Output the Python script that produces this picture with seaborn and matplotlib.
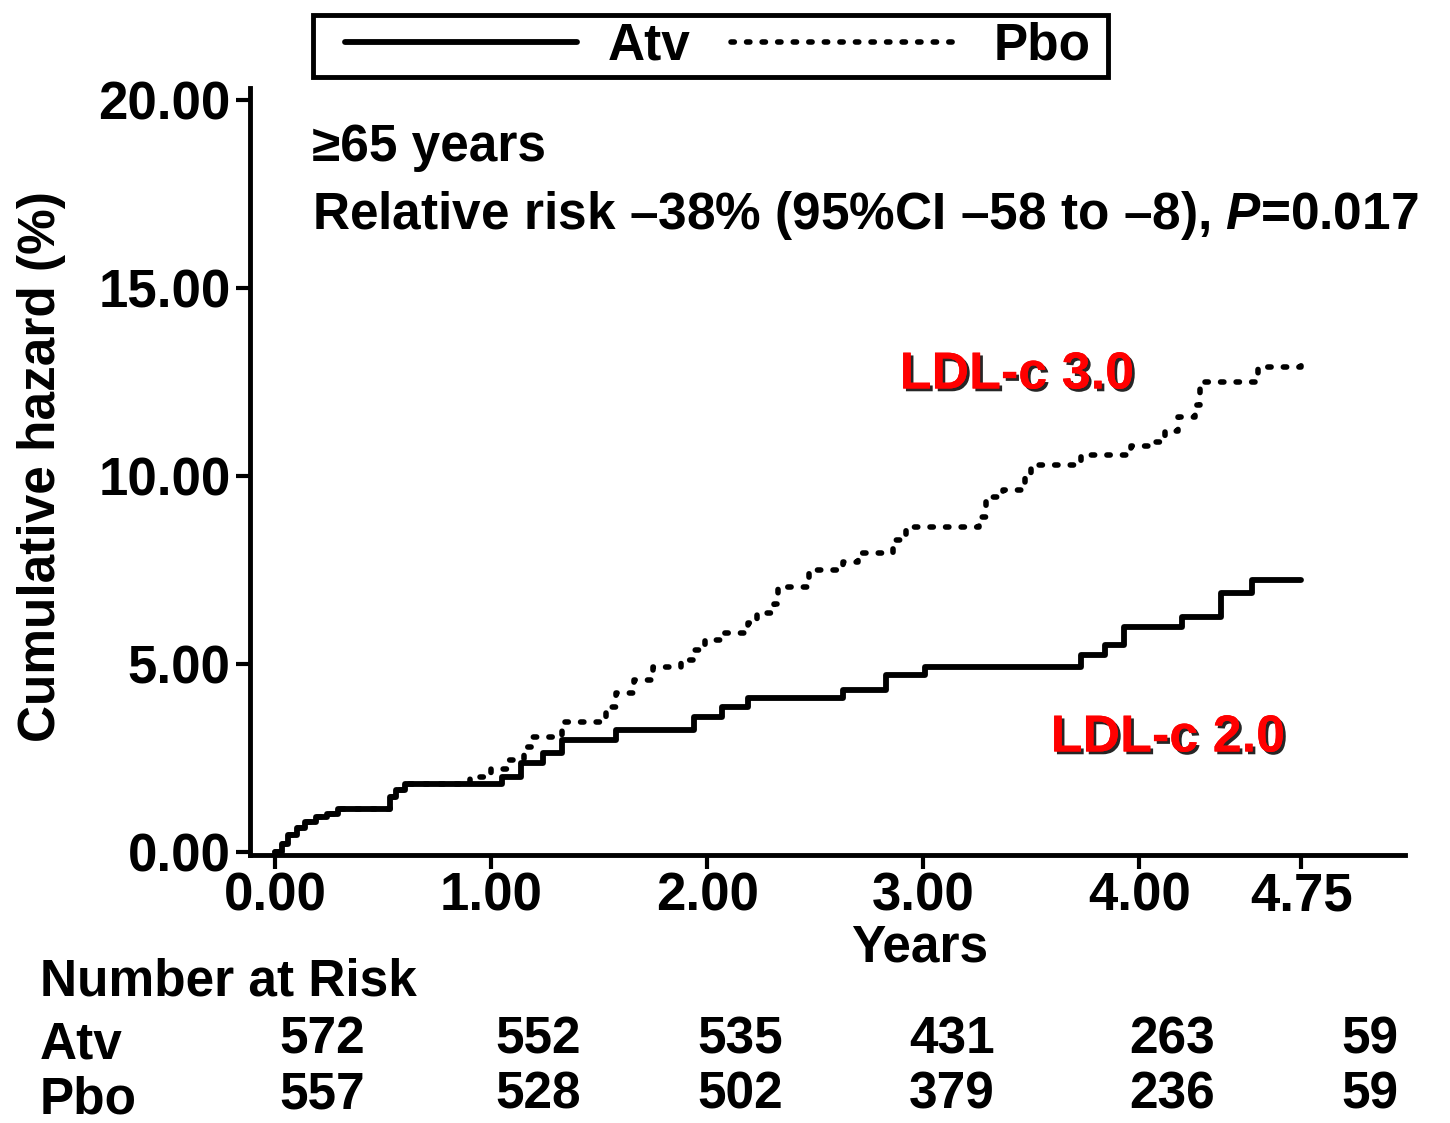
import numpy as np
import pandas as pd
import matplotlib
matplotlib.use("Agg")
import matplotlib.pyplot as plt
import matplotlib.patheffects as pe
from matplotlib.lines import Line2D
from matplotlib.patches import Rectangle
import seaborn as sns

# ---------------- data ----------------
atv_t = [0.00, 0.03, 0.06, 0.10, 0.14, 0.19, 0.24, 0.29, 0.53, 0.56, 0.60,
         1.05, 1.14, 1.24, 1.33, 1.58, 1.94, 2.07, 2.19, 2.63, 2.83, 3.01,
         3.73, 3.84, 3.93, 4.20, 4.38, 4.52, 4.75]
atv_v = [0.00, 0.20, 0.45, 0.65, 0.80, 0.92, 1.00, 1.15, 1.45, 1.65, 1.80,
         2.00, 2.37, 2.63, 2.98, 3.24, 3.59, 3.86, 4.10, 4.30, 4.70, 4.92,
         5.24, 5.50, 5.98, 6.25, 6.90, 7.23, 7.23]

pbo_t = [0.00, 0.03, 0.06, 0.10, 0.14, 0.19, 0.24, 0.29, 0.53, 0.56, 0.60,
         0.90, 1.00, 1.08, 1.15, 1.19, 1.33, 1.53, 1.58, 1.66, 1.75,
         1.88, 1.94, 1.99, 2.07, 2.19, 2.23, 2.31, 2.33, 2.47, 2.63,
         2.70, 2.86, 2.92, 3.26, 3.29, 3.37, 3.47, 3.50, 3.73, 3.96,
         4.04, 4.12, 4.18, 4.26, 4.28, 4.55, 4.75]
pbo_v = [0.00, 0.20, 0.45, 0.65, 0.80, 0.92, 1.00, 1.15, 1.45, 1.65, 1.80,
         2.00, 2.20, 2.45, 2.80, 3.06, 3.46, 3.86, 4.23, 4.57, 4.92,
         5.10, 5.37, 5.64, 5.82, 6.10, 6.35, 6.60, 7.05, 7.50, 7.70,
         7.95, 8.30, 8.64, 8.90, 9.44, 9.63, 9.97, 10.30, 10.56, 10.80,
         10.90, 11.20, 11.57, 11.90, 12.50, 12.90, 12.95]

x_ticks = [0.0, 1.0, 2.0, 3.0, 4.0, 4.75]
x_tick_labels = ["0.00", "1.00", "2.00", "3.00", "4.00", "4.75"]
y_ticks = [0, 5, 10, 15, 20]
y_tick_labels = ["0.00", "5.00", "10.00", "15.00", "20.00"]

risk_atv = [572, 552, 535, 431, 263, 59]
risk_pbo = [557, 528, 502, 379, 236, 59]

# ---------------- style ----------------
sns.set_style("ticks")
plt.rcParams['font.family'] = ['Liberation Sans', 'DejaVu Sans']
plt.rcParams['font.weight'] = 'bold'
plt.rcParams['text.color'] = 'black'
plt.rcParams['axes.labelcolor'] = 'black'
plt.rcParams['xtick.color'] = 'black'
plt.rcParams['ytick.color'] = 'black'
plt.rcParams['mathtext.fontset'] = 'custom'
plt.rcParams['mathtext.rm'] = 'Liberation Sans:bold'
plt.rcParams['mathtext.it'] = 'Liberation Sans:italic:bold'

W, H = 1450, 1123
fig = plt.figure(figsize=(W / 100, H / 100), dpi=100)
fig.patch.set_facecolor("white")

def fx(px):
    return px / W

def fy(py):
    return 1 - py / H

ax = fig.add_axes([fx(250), fy(855), fx(1405) - fx(250), fy(88) - fy(855)])
ax.set_facecolor("white")

df_atv = pd.DataFrame({"t": atv_t, "v": atv_v})
df_pbo = pd.DataFrame({"t": pbo_t, "v": pbo_v})

dot_style = (0, (0.6, 2.2))
sns.lineplot(data=df_atv, x="t", y="v", ax=ax, color="black", lw=4.2,
             drawstyle="steps-post", estimator=None, sort=False)
sns.lineplot(data=df_pbo, x="t", y="v", ax=ax, color="black", lw=4.0,
             drawstyle="steps-post", estimator=None, sort=False,
             linestyle=dot_style, dash_capstyle="round")

ax.set_xlim(-0.116, 5.23)
ax.set_ylim(-0.08, 20.32)
ax.set_xticks(x_ticks)
ax.set_xticklabels(x_tick_labels)
ax.set_yticks(y_ticks)
ax.set_yticklabels(y_tick_labels)
ax.tick_params(axis="both", labelsize=38, width=3, length=10, color="black",
               labelcolor="black", direction="out")
ax.tick_params(axis="y", pad=4)
ax.tick_params(axis="x", pad=2)
for s in ["top", "right"]:
    ax.spines[s].set_visible(False)
for s in ["left", "bottom"]:
    ax.spines[s].set_linewidth(3.5)
    ax.spines[s].set_color("black")
ax.set_xlabel("")
ax.set_ylabel("")
ax.grid(False)

# axis titles
fig.text(fx(42), fy(467), "Cumulative hazard (%)", rotation=90, fontsize=37,
         ha="center", va="center")
fig.text(fx(920), fy(948), "Years", fontsize=37, ha="center", va="center")

# header texts
fig.text(fx(312), fy(148), "≥65 years", fontsize=37, ha="left", va="center")
fig.text(fx(312), fy(215),
         r"Relative risk –38% (95%CI –58 to –8), $\it{P}$=0.017",
         fontsize=37, ha="left", va="center")

# red labels with shadow
shadow = [pe.withSimplePatchShadow(offset=(2, -2), shadow_rgbFace="black",
                                   alpha=0.85), pe.Normal()]
fig.text(fx(1017), fy(375), "LDL-c 3.0", fontsize=37.5, fontweight="bold",
         color="#ff0000", ha="center", va="center", path_effects=shadow)
fig.text(fx(1168), fy(738), "LDL-c 2.0", fontsize=37.5, fontweight="bold",
         color="#ff0000", ha="center", va="center", path_effects=shadow)

# legend (frame drawn as separate rectangle)
fig.patches.append(Rectangle((fx(313), fy(77)), fx(1108) - fx(313),
                             fy(15) - fy(77), transform=fig.transFigure,
                             fill=False, edgecolor="black", linewidth=3.5))
handles = [Line2D([], [], color="black", lw=4.2),
           Line2D([], [], color="black", lw=4.0, linestyle=dot_style,
                  dash_capstyle="round")]
leg = fig.legend(handles, ["Atv", "Pbo"], ncol=2, loc="center",
                 bbox_to_anchor=(fx(718), fy(46)), fontsize=37,
                 frameon=False, handlelength=4.5,
                 handletextpad=0.6, columnspacing=0.8, borderpad=0.1,
                 borderaxespad=0)

# number at risk table
fig.text(fx(40), fy(982), "Number at Risk", fontsize=37, ha="left", va="center")
fig.text(fx(40), fy(1045), "Atv", fontsize=37, ha="left", va="center")
fig.text(fx(40), fy(1100), "Pbo", fontsize=37, ha="left", va="center")
risk_px = [322, 538, 740, 952, 1172, 1370]
for px, a, p in zip(risk_px, risk_atv, risk_pbo):
    fig.text(fx(px), fy(1040), str(a), fontsize=37, ha="center", va="center")
    fig.text(fx(px), fy(1095), str(p), fontsize=37, ha="center", va="center")

fig.savefig("out.png", dpi=100, facecolor="white")
